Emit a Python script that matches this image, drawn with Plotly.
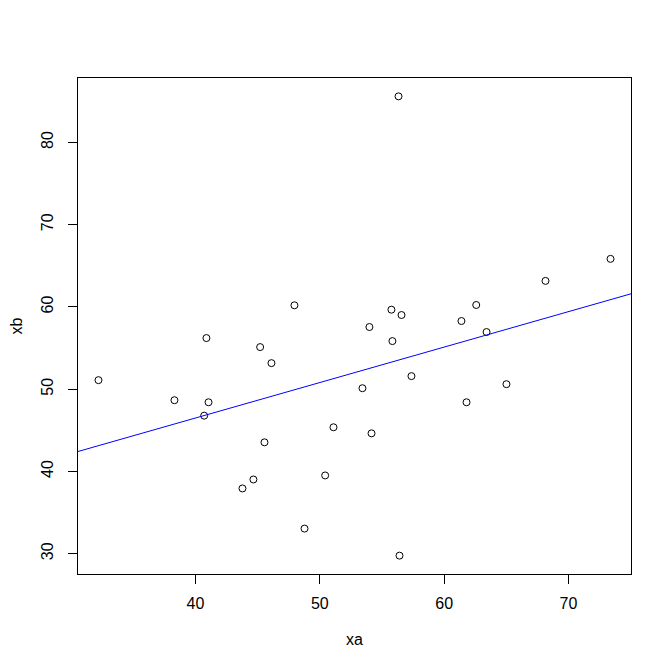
import numpy as np
import plotly.graph_objects as go

xa = [32.20, 40.88, 45.20, 46.11, 38.31, 41.05, 40.70, 45.55, 51.10, 50.43,
      44.66, 43.78, 48.77, 53.99, 61.39, 55.84, 63.41, 57.37, 53.43, 65.01,
      61.80, 54.16, 56.41, 56.33, 73.38, 68.15, 62.58, 55.76, 56.57, 47.96]
xb = [51.10, 56.22, 55.12, 53.17, 48.66, 48.41, 46.78, 43.54, 45.37, 39.51,
      39.02, 37.93, 33.05, 57.56, 58.29, 55.85, 56.95, 51.59, 50.12, 50.61,
      48.41, 44.63, 29.76, 85.61, 65.85, 63.17, 60.24, 59.67, 59.02, 60.20]
x_ticks = [40, 50, 60, 70]
y_ticks = [30, 40, 50, 60, 70, 80]

xa_arr = np.array(xa)
xb_arr = np.array(xb)

def r_range(v):
    lo, hi = v.min(), v.max()
    pad = 0.04 * (hi - lo)
    return [lo - pad, hi + pad]

xr = r_range(xa_arr)
yr = r_range(xb_arr)

slope, intercept = np.polyfit(xa_arr, xb_arr, 1)
line_x = np.array(xr)
line_y = intercept + slope * line_x

FONT = "Liberation Sans, Arial, sans-serif"

fig = go.Figure()
fig.add_trace(go.Scatter(
    x=xa, y=xb, mode="markers",
    marker=dict(symbol="circle-open", size=7, color="black", line=dict(width=1, color="black")),
    showlegend=False, hoverinfo="skip"))
fig.add_trace(go.Scatter(
    x=line_x, y=line_y, mode="lines",
    line=dict(color="#0000ff", width=1),
    showlegend=False, hoverinfo="skip"))

axis_common = dict(
    showgrid=False, zeroline=False, showline=True, linecolor="black", linewidth=1,
    mirror=True, ticks="outside", ticklen=9, tickwidth=1, tickcolor="black",
    tickfont=dict(family=FONT, size=16, color="black"), automargin=False,
)

fig.update_layout(
    width=672, height=672,
    margin=dict(l=70, r=49, t=70, b=106, pad=0),
    paper_bgcolor="white", plot_bgcolor="white",
    font=dict(family=FONT, size=16, color="black"),
    xaxis=dict(range=xr, tickvals=x_ticks, ticktext=[str(t) for t in x_ticks],
               title=dict(text="xa", font=dict(family=FONT, size=16), standoff=22),
               ticklabelstandoff=6, **axis_common),
    yaxis=dict(range=yr, tickvals=y_ticks, ticktext=[str(t) for t in y_ticks],
               tickangle=-90,
               title=dict(text="xb", font=dict(family=FONT, size=16), standoff=13),
               ticklabelstandoff=9, **axis_common),
)

fig.write_html("out.html")
